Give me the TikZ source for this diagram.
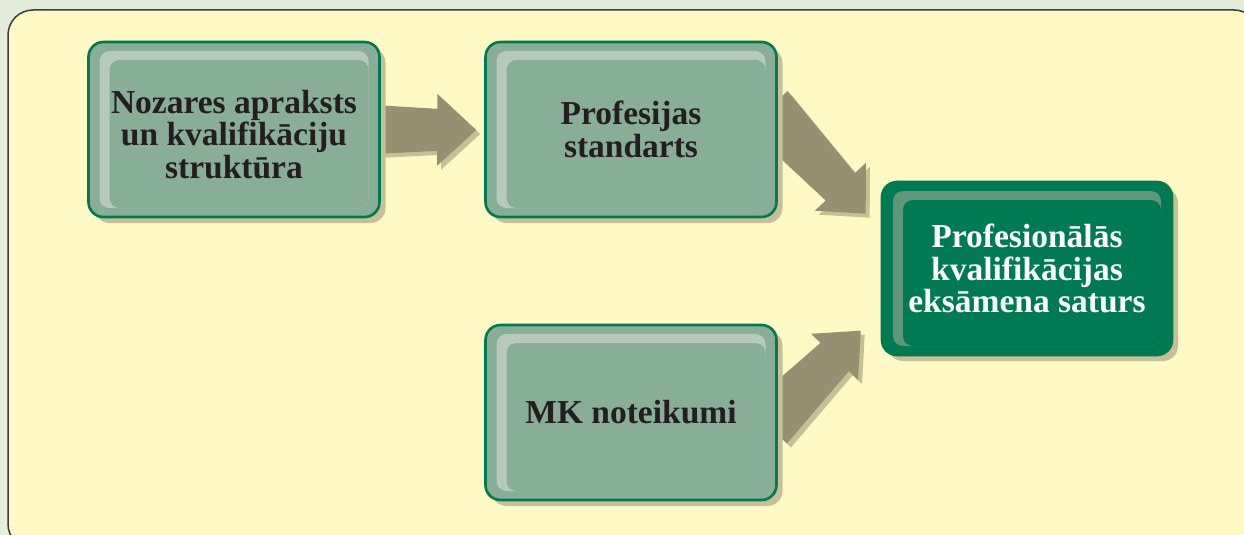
\documentclass[tikz,border=0pt]{standalone}
\usepackage{fontspec}
\setmainfont{Liberation Serif}
\usetikzlibrary{calc,shadows}
\definecolor{outerbg}{HTML}{E3EDDA}
\definecolor{panel}{HTML}{FFF9C5}
\definecolor{panelline}{HTML}{3C3C3C}
\definecolor{boxfill}{HTML}{88AE98}
\definecolor{boxhl}{HTML}{B5C9BC}
\definecolor{boxline}{HTML}{007A4E}
\definecolor{darkfill}{HTML}{007A52}
\definecolor{darkhl}{HTML}{5F977A}
\definecolor{shade}{HTML}{C7BF96}
\definecolor{arrowcol}{HTML}{968F72}
\definecolor{txtcol}{HTML}{231F20}
\pgfdeclarelayer{bg}\pgfdeclarelayer{arr}\pgfsetlayers{bg,arr,main}
\tikzset{
  boxtext/.style={inner sep=0pt, align=center, font=\fontsize{33.5}{32.5}\selectfont\bfseries},
  card/.style 2 args={boxtext, draw=boxline, line width=2.6pt, fill=#1, rounded corners=15pt,
    minimum width=291pt, minimum height=175pt,
    drop shadow={shadow xshift=6pt, shadow yshift=-6pt, fill=shade, opacity=1},
    path picture={
      \fill[#2, rounded corners=10pt] ($(path picture bounding box.north west)+(11,9)$) rectangle ($(path picture bounding box.south east)+(-11,-9)$);
      \fill[#1, rounded corners=10pt] ($(path picture bounding box.north west)+(21,18)$) rectangle ($(path picture bounding box.south east)+(-11,-9)$);
    }},
  fatarrow/.style={fill=arrowcol},
  fatshadow/.style={fill=shade},
}
% #1 start, #2 tip, #3 head length, #4 start half width, #5 base half width, #6 wing half width, #7 style
\newcommand{\fatarrow}[7]{%
  \coordinate (fa-h) at ($(#2)!#3!(#1)$);
  \fill[#7] ($(#1)!#4!90:(#2)$) -- ($(fa-h)!#5!-90:(#1)$) -- ($(fa-h)!#6!-90:(#1)$) -- (#2)
    -- ($(fa-h)!#6!90:(#1)$) -- ($(fa-h)!#5!90:(#1)$) -- ($(#1)!#4!-90:(#2)$) -- cycle;
}
\begin{document}
\begin{tikzpicture}[x=1pt,y=-1pt]
\useasboundingbox (0,0) rectangle (1244,535);
\begin{pgfonlayer}{bg}
  \begin{scope}
    \clip (0,0) rectangle (1244,535);
    \fill[outerbg] (0,0) rectangle (1244,535);
    \draw[panelline, line width=1.5pt, fill=panel, rounded corners=25pt] (8,10) rectangle (1259,549);
  \end{scope}
\end{pgfonlayer}

\node[card={boxfill}{boxhl}] (n1) at (234,129.5) {};
\node[boxtext, text=txtcol] (n1t) at ($(n1.center)+(0,5)$) {Nozares apraksts\\un kvalifikāciju\\struktūra};
\node[card={boxfill}{boxhl}, text=txtcol] (n2) at (631,129.5) {Profesijas\\standarts};
\node[card={boxfill}{boxhl}, text=txtcol] (n3) at (631,412.5) {MK noteikumi};
\node[card={darkfill}{darkhl}, text=white, minimum width=290pt, minimum height=173pt] (n4) at (1027,268.5) {Profesionālās\\kvalifikācijas\\eksāmena saturs};

\coordinate (s1) at ($(n1.east)+(-15,0)$);
\coordinate (t1) at ($(n2.west)+(-8,0.5)$);
\coordinate (s2) at ($(n2.east)+(-10,-20)$);
\coordinate (t2) at ($(n4.north west)+(-15,33)$);
\coordinate (s3) at ($(n3.east)+(-10,12)$);
\coordinate (t3) at ($(n4.north west)+(-20,150)$);

\begin{pgfonlayer}{arr}
  \begin{scope}[transform canvas={shift={(4pt,-4pt)}}]
    \fatarrow{s1}{t1}{39pt}{25pt}{21pt}{36pt}{fatshadow}
    \fatarrow{s2}{t2}{37pt}{27pt}{20pt}{35pt}{fatshadow}
    \fatarrow{s3}{t3}{37pt}{27pt}{20pt}{33pt}{fatshadow}
  \end{scope}
  \fatarrow{s1}{t1}{39pt}{25pt}{21pt}{36pt}{fatarrow}
  \fatarrow{s2}{t2}{37pt}{27pt}{20pt}{35pt}{fatarrow}
  \fatarrow{s3}{t3}{37pt}{27pt}{20pt}{33pt}{fatarrow}
\end{pgfonlayer}
\end{tikzpicture}
\end{document}
